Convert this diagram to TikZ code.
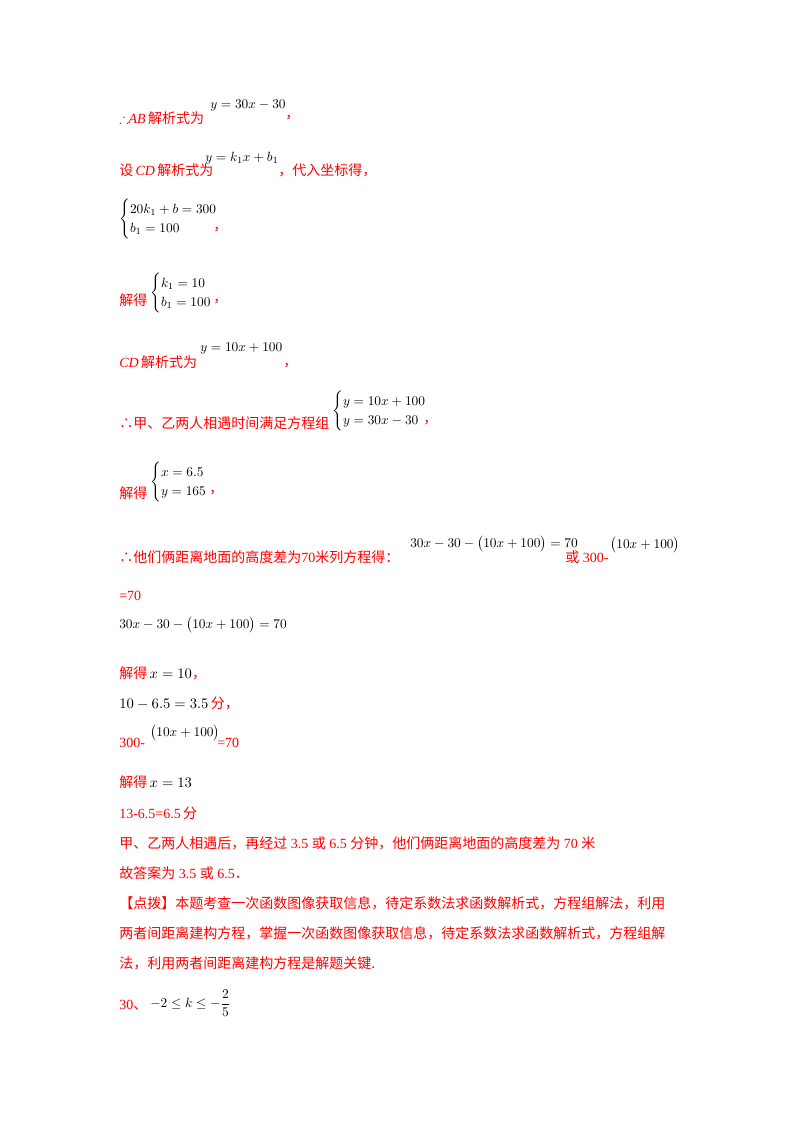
\documentclass[tikz,border=0pt]{standalone}
\usepackage{amsmath,amssymb}
\usepackage{fontspec}
\setmainfont{Liberation Serif}
\newfontfamily\cjk{Noto Sans CJK SC}
\newcommand\cn[1]{{\cjk #1}}
\begin{document}
\begin{tikzpicture}[x=0.75pt,y=-0.75pt,
  t/.style={anchor=west,inner sep=0,text=red,font=\fontsize{10.5}{13}\selectfont},
  m/.style={anchor=west,inner sep=0,text=black,font=\fontsize{10}{12}\selectfont}]
\useasboundingbox[fill=white] (0,0) rectangle (800,1132);
\node[t] (l1) at (119,118) {$\therefore$\textit{AB}\,\cn{解析式为}};
\node[m] (m1) at (210,105) {$y=30x-30$};
\node[t] (c1) at (285,118) {\cn{，}};
\node[t] (l2) at (119,170) {\cn{设}\,\textit{CD}\,\cn{解析式为}};
\node[m] (m2) at (205,158) {$y=k_1x+b_1$};
\node[t] (c2) at (278,170) {\cn{，代入坐标得，}};
\node[m] (s1) at (119,219) {$\begin{cases}20k_1+b=300\\ b_1=100\end{cases}$};
\node[t] (c3) at (213,230) {\cn{，}};
\node[t] (l3) at (119,300) {\cn{解得}};
\node[m] (s2) at (150,293) {$\begin{cases}k_1=10\\ b_1=100\end{cases}$};
\node[t] (c4) at (213,302) {\cn{，}};
\node[t] (l4) at (119,362) {\textit{CD}\,\cn{解析式为}};
\node[m] (m3) at (200,348) {$y=10x+100$};
\node[t] (c5) at (283,366) {\cn{，}};
\node[t] (l5) at (119,423) {\cn{∴甲、乙两人相遇时间满足方程组}};
\node[m] (s3) at (332,411) {$\begin{cases}y=10x+100\\ y=30x-30\end{cases}$};
\node[t] (c6) at (423,423) {\cn{，}};
\node[t] (l6) at (119,493) {\cn{解得}};
\node[m] (s4) at (150,482) {$\begin{cases}x=6.5\\ y=165\end{cases}$};
\node[t] (c7) at (209,493) {\cn{，}};
\node[t] (l7) at (119,557) {\cn{∴他们俩距离地面的高度差为}70\cn{米列方程得：}};
\node[m] (m4) at (410,544) {$30x-30-\bigl(10x+100\bigr)=70$};
\node[t] (l7b) at (565,557) {\cn{或} 300-};
\node[m] (m5) at (610,545) {$\bigl(10x+100\bigr)$};
\node[t] (l8) at (119,596) {=70};
\node[m] (m6) at (119,625) {$30x-30-\bigl(10x+100\bigr)=70$};
\node[t] (l9) at (119,673) {\cn{解得}\,\textcolor{black}{$x=10$}\cn{，}};
\node[t] (l10) at (119,703) {\textcolor{black}{$10-6.5=3.5$}\,\cn{分，}};
\node[t] (l11) at (119,743) {300-};
\node[m] (m7) at (150,733) {$\bigl(10x+100\bigr)$};
\node[t] (l11b) at (217,743) {=70};
\node[t] (l12) at (119,782) {\cn{解得}\,\textcolor{black}{$x=13$}};
\node[t] (l13) at (119,813) {13-6.5=6.5\,\cn{分}};
\node[t] (l14) at (119,843) {\cn{甲、乙两人相遇后，再经过} 3.5 \cn{或} 6.5 \cn{分钟，他们俩距离地面的高度差为} 70 \cn{米}};
\node[t] (l15) at (119,873) {\cn{故答案为} 3.5 \cn{或} 6.5\cn{．}};
\node[t] (l16) at (119,903) {\cn{【点拨】本题考查一次函数图像获取信息，待定系数法求函数解析式，方程组解法，利用}};
\node[t] (l17) at (119,933) {\cn{两者间距离建构方程，掌握一次函数图像获取信息，待定系数法求函数解析式，方程组解}};
\node[t] (l18) at (119,963) {\cn{法，利用两者间距离建构方程是解题关键.}};
\node[t] (l19) at (119,1005) {30\cn{、}};
\node[m] (m8) at (150,1003) {$-2\le k\le -\dfrac{2}{5}$};
\end{tikzpicture}
\end{document}
